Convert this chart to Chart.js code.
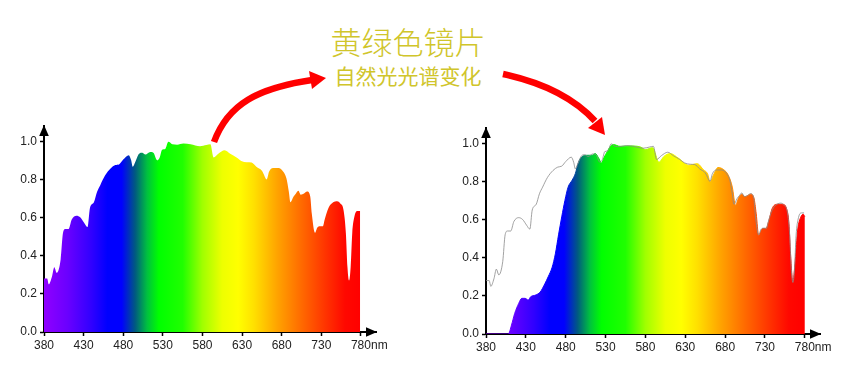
<!DOCTYPE html>
<html lang="zh">
<head>
    <meta charset="UTF-8">
    <title>黄绿色镜片 自然光光谱变化</title>
    <script src="https://cdn.jsdelivr.net/npm/chart.js"></script>
    <style>
        body {
            margin: 0;
            width: 859px;
            height: 379px;
            background: #fff;
            position: relative;
            overflow: hidden;
        }
        .chart {
            position: absolute;
            top: 100px;
        }
        #left { left: 0; }
        #right { left: 440px; }
        .title {
            position: absolute;
            left: 258px;
            width: 300px;
            text-align: center;
            color: #d0c52b;
            font-family: "Noto Sans CJK SC", sans-serif;
            line-height: 1;
            white-space: nowrap;
        }
        #t1 { top: 25px; font-size: 31px; font-weight: 300; }
        #t2 { top: 65px; font-size: 21px; font-weight: 400; }
        svg { position: absolute; left: 0; top: 0; }
    </style>
</head>
<body>
    <canvas id="left" class="chart" width="420" height="279"></canvas>
    <canvas id="right" class="chart" width="419" height="279"></canvas>
    <div id="t1" class="title">黄绿色镜片</div>
    <div id="t2" class="title">自然光光谱变化</div>
    <svg width="859" height="379">
        <path d="M214,142 C228,104 258,88 312,80" stroke="#ff0000" stroke-width="6.5" fill="none"/>
        <polygon points="309,71 326,78 312,89" fill="#ff0000"/>
        <path d="M503,74 C545,83 574,98 595,121" stroke="#ff0000" stroke-width="6.5" fill="none"/>
        <polygon points="588,128 605,135 602,117" fill="#ff0000"/>
    </svg>
    <script>
        // espectro natural (sem lente)
        const naturalNm = [380, 384, 386, 390, 393, 396, 401, 404, 407, 411, 415, 421, 426, 431, 435, 438, 443, 447, 451, 457,
            464, 470, 475, 480, 487, 490, 492, 495, 500, 504, 508, 514, 518, 523, 526, 529, 533, 537, 542, 548,
            556, 565, 577, 585, 590, 594, 600, 608, 615, 623, 629, 636, 642, 648, 655, 657, 661, 664, 669, 676,
            682, 686, 689, 691, 695, 698, 701, 704, 708, 712, 716, 718, 722, 725, 728, 732, 734, 739, 745, 750,
            754, 758, 761, 763, 765, 767, 769, 772, 776, 779];
        const naturalVal = [0.28, 0.28, 0.25, 0.29, 0.34, 0.31, 0.38, 0.52, 0.54, 0.54, 0.59, 0.61, 0.60, 0.57, 0.55, 0.65, 0.68, 0.735, 0.77, 0.82,
            0.857, 0.875, 0.88, 0.904, 0.927, 0.90, 0.866, 0.89, 0.935, 0.94, 0.93, 0.944, 0.94, 0.90, 0.915, 0.956, 0.96, 0.997, 0.984, 0.982,
            0.988, 0.984, 0.974, 0.98, 0.984, 0.915, 0.935, 0.953, 0.935, 0.915, 0.897, 0.89, 0.888, 0.866, 0.845, 0.83, 0.80, 0.84, 0.86, 0.86,
            0.84, 0.805, 0.735, 0.68, 0.71, 0.726, 0.74, 0.72, 0.726, 0.736, 0.71, 0.62, 0.52, 0.548, 0.555, 0.555, 0.586, 0.65, 0.68, 0.686,
            0.674, 0.64, 0.517, 0.34, 0.27, 0.34, 0.517, 0.61, 0.635, 0.635];

        // espectro através da lente amarelo-verde
        const filteredNm = [380, 408, 412, 416, 421, 425, 429, 433, 436, 442, 448, 454, 458, 463, 467, 471, 475, 479, 483, 488,
            492, 496, 500, 507, 513, 517, 521, 525, 528, 532, 536, 540, 548, 561, 574, 580, 589, 597, 603, 611,
            622, 634, 645, 653, 658, 661, 666, 671, 678, 684, 689, 693, 697, 701, 705, 712, 716, 719, 722, 727,
            731, 735, 739, 745, 752, 757, 760, 762, 765, 768, 771, 775, 778, 780];
        const filteredVal = [0, 0, 0.047, 0.108, 0.16, 0.187, 0.187, 0.178, 0.195, 0.204, 0.22, 0.265, 0.30, 0.35, 0.42, 0.52, 0.614, 0.70, 0.77, 0.806,
            0.84, 0.90, 0.928, 0.937, 0.937, 0.946, 0.925, 0.897, 0.925, 0.955, 0.984, 0.993, 0.984, 0.986, 0.98, 0.967, 0.977, 0.90, 0.93, 0.946,
            0.92, 0.885, 0.893, 0.86, 0.84, 0.80, 0.84, 0.873, 0.862, 0.832, 0.77, 0.675, 0.715, 0.733, 0.72, 0.733, 0.715, 0.63, 0.518, 0.553,
            0.553, 0.597, 0.658, 0.68, 0.68, 0.658, 0.58, 0.42, 0.274, 0.387, 0.545, 0.614, 0.628, 0.614];

        const xTicks = [380, 430, 480, 530, 580, 630, 680, 730, 780];
        const yTicks = [0, 0.2, 0.4, 0.6, 0.8, 1.0];

        // cores do arco-íris por comprimento de onda
        const spectrumStops = [
            [380, '#9000ff'], [410, '#6a00ff'], [440, '#3000ff'], [460, '#0000ff'], [478, '#0000ff'],
            [495, '#005a80'], [510, '#00c040'], [525, '#00ff00'], [555, '#20ff00'], [580, '#a0ff00'],
            [605, '#eeff00'], [625, '#ffff00'], [645, '#ffe000'], [675, '#ffa200'], [705, '#ff6a00'],
            [735, '#ff3400'], [760, '#ff0800'], [780, '#ff0000']
        ];

        const tickFont = { family: 'Arial, "Liberation Sans", sans-serif', size: 12 };

        function points(nm, val) {
            return nm.map((x, i) => ({ x: x, y: val[i] }));
        }

        function spectrumGradient(context) {
            const chart = context.chart;
            if (!chart.chartArea) return 'transparent';
            const xs = chart.scales.x;
            const x0 = xs.getPixelForValue(380);
            const x1 = xs.getPixelForValue(780);
            const g = chart.ctx.createLinearGradient(x0, 0, x1, 0);
            spectrumStops.forEach(s => g.addColorStop((s[0] - 380) / 400, s[1]));
            return g;
        }

        // setas dos eixos e "nm"
        const axisArrows = {
            id: 'axisArrows',
            afterDraw(chart) {
                const ctx = chart.ctx;
                const a = chart.chartArea;
                ctx.save();
                ctx.fillStyle = '#000';
                ctx.beginPath();
                ctx.moveTo(a.left, a.top - 1);
                ctx.lineTo(a.left - 4.8, a.top + 10);
                ctx.lineTo(a.left + 4.8, a.top + 10);
                ctx.closePath();
                ctx.fill();
                ctx.beginPath();
                ctx.moveTo(a.right + 1, a.bottom);
                ctx.lineTo(a.right - 10, a.bottom - 4.8);
                ctx.lineTo(a.right - 10, a.bottom + 4.8);
                ctx.closePath();
                ctx.fill();
                ctx.font = '12px Arial, "Liberation Sans", sans-serif';
                ctx.fillStyle = '#222';
                ctx.textBaseline = 'middle';
                ctx.textAlign = 'left';
                const px = chart.scales.x.getPixelForValue(780) + ctx.measureText('780').width / 2;
                ctx.fillText('nm', px, a.bottom + 4 + 2 + 7.2);
                ctx.restore();
            }
        };

        function makeOptions(yWidth, xHeight, padTop, padRight) {
            return {
                responsive: false,
                animation: false,
                layout: { padding: { top: padTop, right: padRight, left: 0, bottom: 0 } },
                plugins: { legend: { display: false }, tooltip: { enabled: false } },
                elements: { point: { radius: 0 } },
                scales: {
                    x: {
                        type: 'linear',
                        min: 380,
                        max: 799,
                        afterBuildTicks: s => { s.ticks = xTicks.map(v => ({ value: v })); },
                        afterFit: s => { s.height = xHeight; },
                        ticks: { font: tickFont, color: '#222', padding: 2, maxRotation: 0, autoSkip: false },
                        grid: { drawOnChartArea: false, tickLength: 4, tickColor: '#000', tickWidth: 1.5 },
                        border: { color: '#000', width: 2 }
                    },
                    y: {
                        min: 0,
                        max: 1.08,
                        afterBuildTicks: s => { s.ticks = yTicks.map(v => ({ value: v })); },
                        afterFit: s => { s.width = yWidth; },
                        ticks: { font: tickFont, color: '#222', padding: 3, callback: v => v.toFixed(1) },
                        grid: { drawOnChartArea: false, tickLength: 4, tickColor: '#000', tickWidth: 1.5 },
                        border: { color: '#000', width: 2 }
                    }
                }
            };
        }

        new Chart(document.getElementById('left'), {
            type: 'line',
            data: {
                datasets: [{
                    data: points(naturalNm, naturalVal),
                    fill: 'origin',
                    backgroundColor: spectrumGradient,
                    borderWidth: 0,
                    cubicInterpolationMode: 'monotone'
                }]
            },
            options: makeOptions(44, 47, 26, 44),
            plugins: [axisArrows]
        });

        new Chart(document.getElementById('right'), {
            type: 'line',
            data: {
                datasets: [{
                    data: points(naturalNm, naturalVal),
                    fill: false,
                    borderColor: '#8a8a8a',
                    borderWidth: 0.8,
                    cubicInterpolationMode: 'monotone'
                }, {
                    data: points(filteredNm, filteredVal),
                    fill: 'origin',
                    backgroundColor: spectrumGradient,
                    borderColor: spectrumGradient,
                    borderWidth: 1,
                    cubicInterpolationMode: 'monotone'
                }]
            },
            options: makeOptions(46, 45, 28, 39),
            plugins: [axisArrows]
        });
    </script>
</body>
</html>
